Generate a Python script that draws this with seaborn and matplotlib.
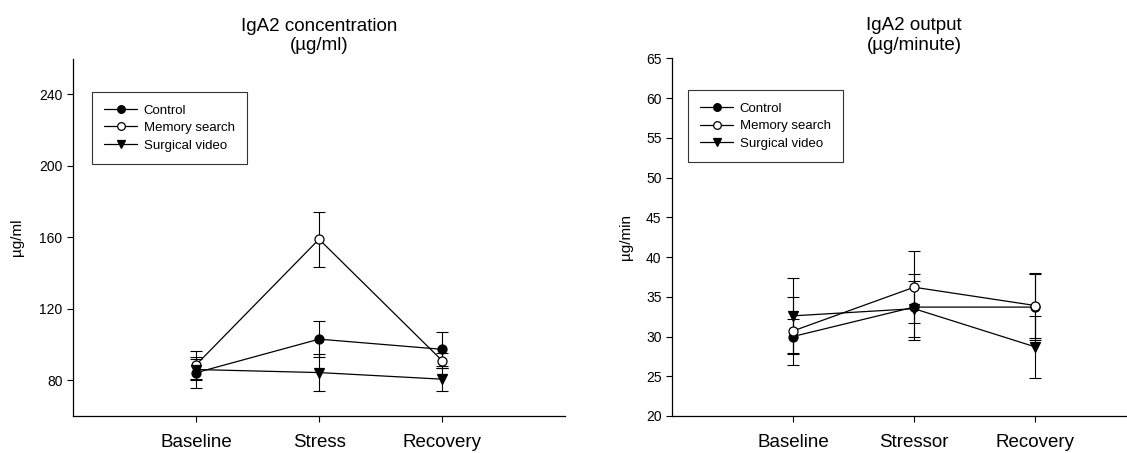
import numpy as np
import pandas as pd
import matplotlib
matplotlib.use("Agg")
import matplotlib.pyplot as plt
import seaborn as sns

# values
groups = ["Control", "Memory search", "Surgical video"]

conc_stages = ["Baseline", "Stress", "Recovery"]
conc_control = [84.2, 103.0, 97.3]
conc_control_err = [8.7, 10.0, 9.5]
conc_memory = [88.6, 158.9, 91.0]
conc_memory_err = [8.0, 15.5, 4.0]
conc_surgical = [86.0, 84.3, 80.6]
conc_surgical_err = [5.7, 10.3, 6.5]

out_stages = ["Baseline", "Stressor", "Recovery"]
out_control = [30.0, 33.7, 33.7]
out_control_err = [2.2, 4.2, 4.2]
out_memory = [30.7, 36.2, 33.9]
out_memory_err = [4.3, 4.5, 4.1]
out_surgical = [32.6, 33.5, 28.7]
out_surgical_err = [4.7, 3.5, 3.9]

sns.set_style("ticks")
plt.rcParams["font.family"] = ["Liberation Sans", "DejaVu Sans"]
plt.rcParams["text.color"] = "black"
plt.rcParams["axes.labelcolor"] = "black"
plt.rcParams["xtick.color"] = "black"
plt.rcParams["ytick.color"] = "black"

styles = {
    "Control": dict(marker="o", markerfacecolor="black"),
    "Memory search": dict(marker="o", markerfacecolor="white"),
    "Surgical video": dict(marker="v", markerfacecolor="black"),
}


def make_df(stages, vals, errs):
    rows = []
    for g, v, e in zip(groups, vals, errs):
        for s, m, se in zip(stages, v, e):
            rows.append({"stage": s, "group": g, "mean": m, "err": se})
    return pd.DataFrame(rows)


def draw_panel(ax, df, title, ylabel, ylim, yticks, legend_anchor, labelpad):
    for g in groups:
        sub = df[df["group"] == g]
        ax.errorbar(sub["stage"], sub["mean"], yerr=sub["err"], fmt="none",
                    ecolor="black", elinewidth=0.8, capsize=4, capthick=0.8,
                    zorder=1)
    for g in groups:
        sub = df[df["group"] == g]
        sns.lineplot(data=sub, x="stage", y="mean", ax=ax, color="black",
                     linewidth=0.9, markersize=6.5, markeredgecolor="black",
                     markeredgewidth=0.9, label=g, sort=False, zorder=3,
                     **styles[g])
    ax.set_xlim(-1, 3)
    ax.set_ylim(*ylim)
    ax.set_yticks(yticks)
    ax.set_xlabel("")
    ax.set_ylabel(ylabel, fontsize=11, labelpad=labelpad)
    ax.set_title(title, fontsize=13.5, pad=6, linespacing=1.2)
    ax.tick_params(axis="y", labelsize=10, length=4, width=0.8, direction="out")
    ax.tick_params(axis="x", labelsize=13.5, length=4, width=0.8, pad=9)
    for sp in ["left", "bottom"]:
        ax.spines[sp].set_linewidth(0.9)
        ax.spines[sp].set_color("black")
    sns.despine(ax=ax)
    leg = ax.legend(loc="upper left", bbox_to_anchor=legend_anchor,
                    borderaxespad=0, fontsize=9.5, frameon=True, fancybox=False,
                    edgecolor="black", handlelength=2.5, labelspacing=0.4,
                    borderpad=0.95, handletextpad=0.5, markerscale=0.85)
    leg.get_frame().set_linewidth(0.8)


fig = plt.figure(figsize=(11.27, 4.53), dpi=100)
ax1 = fig.add_axes([0.0648, 0.0817, 0.4366, 0.789])
ax2 = fig.add_axes([0.5963, 0.0817, 0.4295, 0.7896])

conc = make_df(conc_stages,
               [conc_control, conc_memory, conc_surgical],
               [conc_control_err, conc_memory_err, conc_surgical_err])
out = make_df(out_stages,
              [out_control, out_memory, out_surgical],
              [out_control_err, out_memory_err, out_surgical_err])

draw_panel(ax1, conc, "IgA2 concentration\n(µg/ml)", "µg/ml", (60, 260),
           [80, 120, 160, 200, 240], (0.038, 0.907), 11)
draw_panel(ax2, out, "IgA2 output\n(µg/minute)", "µg/min", (20, 65),
           list(range(20, 66, 5)), (0.032, 0.911), 9)

fig.savefig("out.png", dpi=100)
